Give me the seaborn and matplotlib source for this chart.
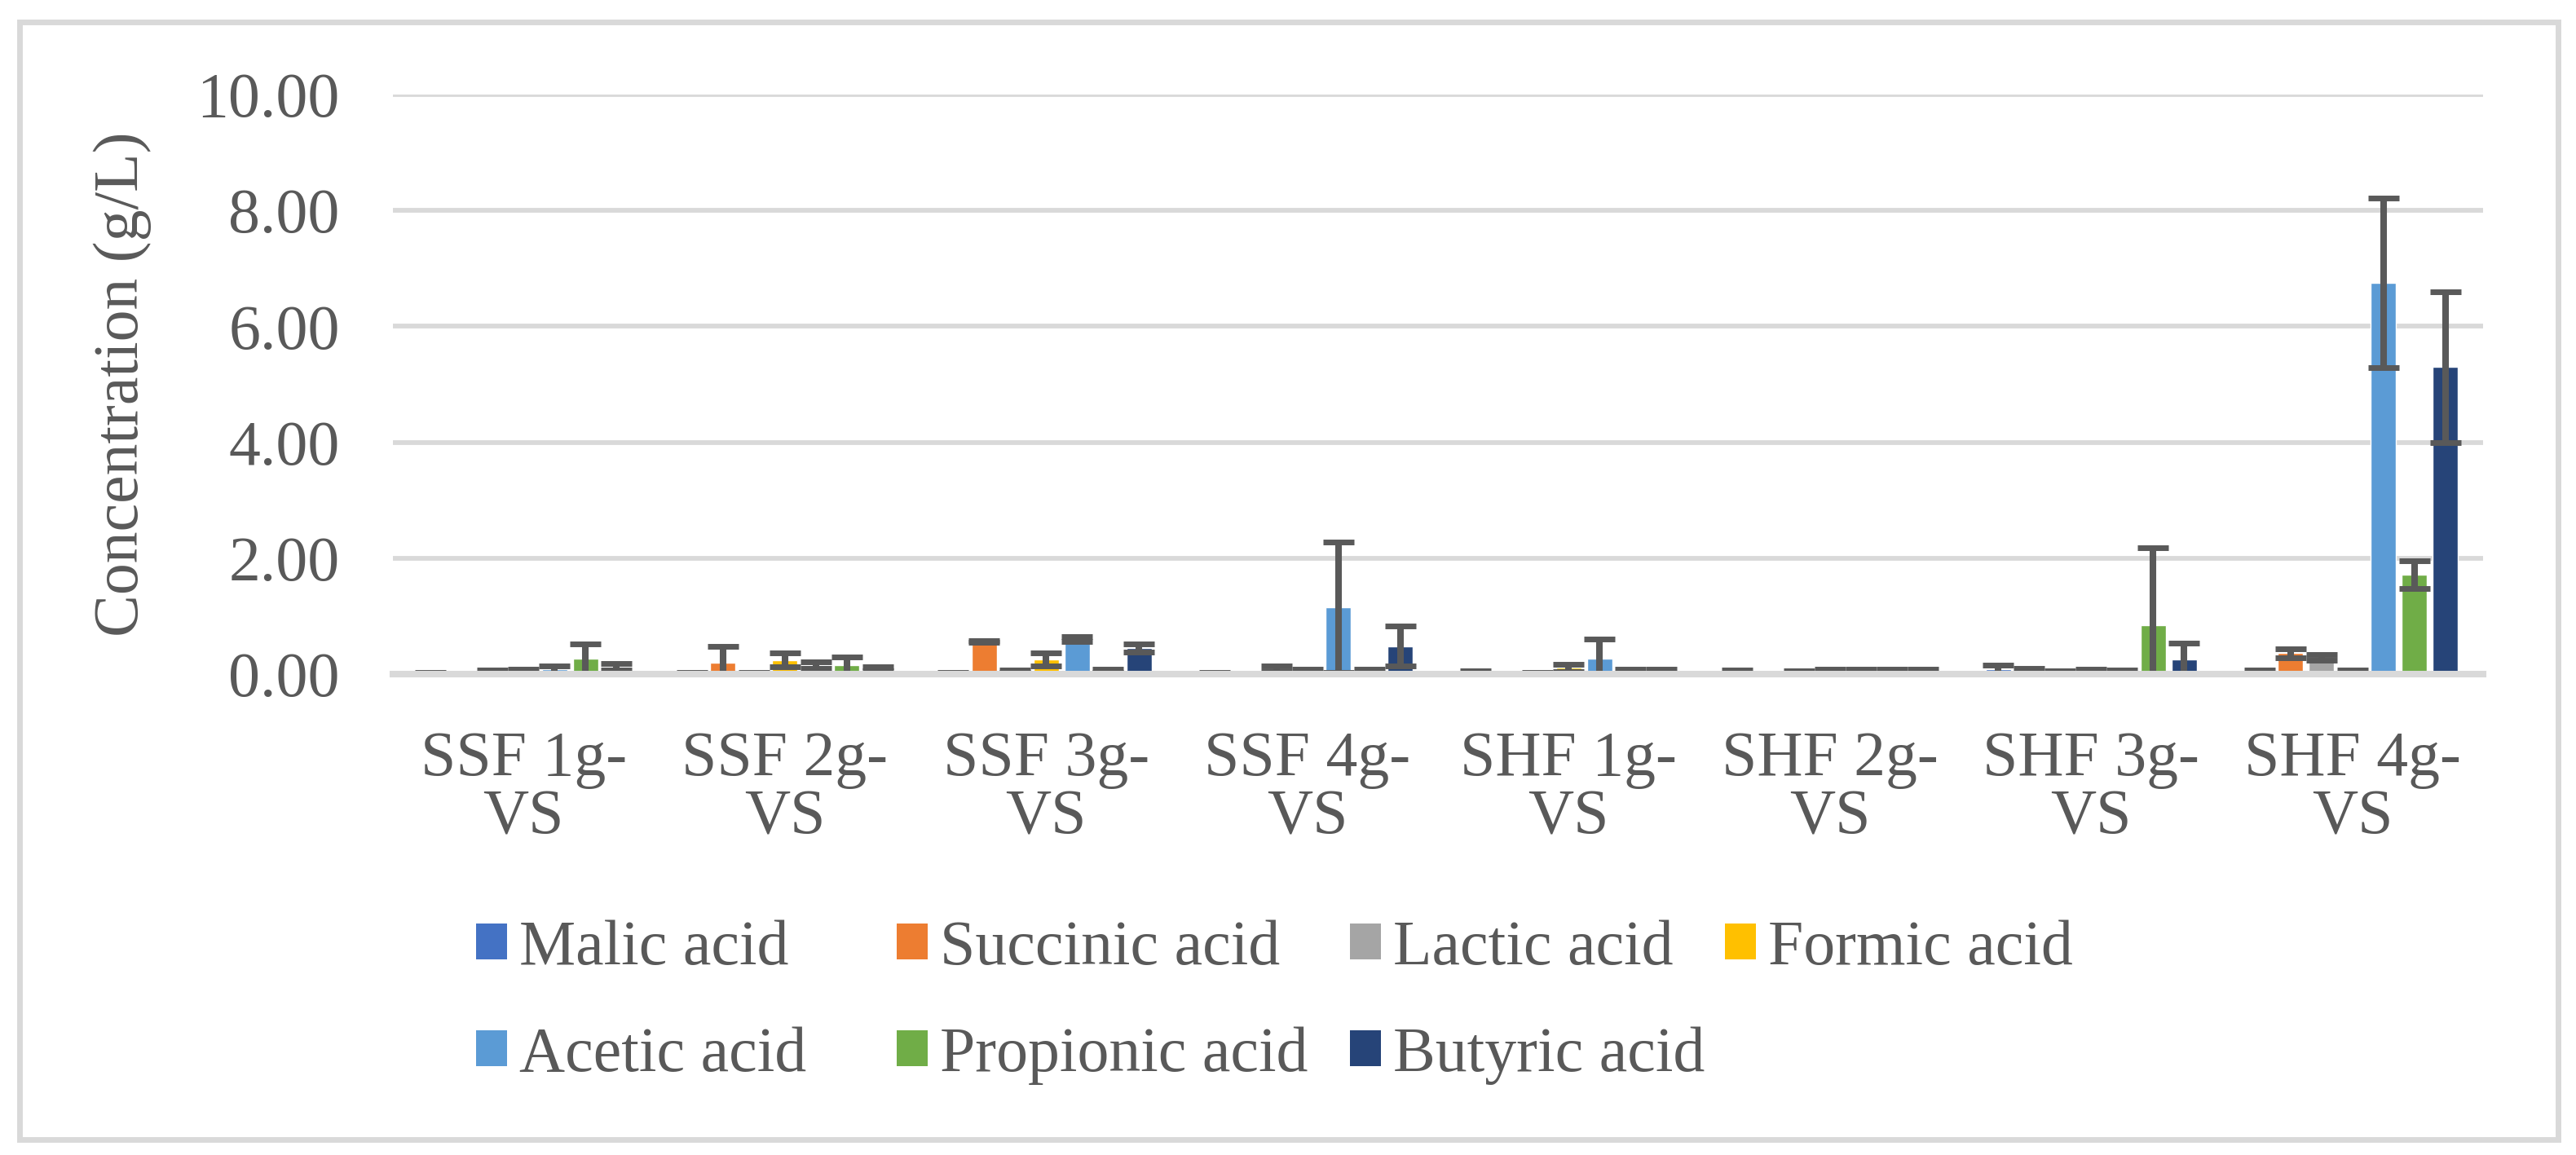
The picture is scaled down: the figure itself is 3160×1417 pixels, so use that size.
import pandas as pd
import matplotlib
matplotlib.use('Agg')
import matplotlib.pyplot as plt
from matplotlib.patches import Patch, Rectangle
import seaborn as sns

groups = ['SSF 1g-\nVS', 'SSF 2g-\nVS', 'SSF 3g-\nVS', 'SSF 4g-\nVS',
          'SHF 1g-\nVS', 'SHF 2g-\nVS', 'SHF 3g-\nVS', 'SHF 4g-\nVS']
acids = ['Malic acid', 'Succinic acid', 'Lactic acid', 'Formic acid',
         'Acetic acid', 'Propionic acid', 'Butyric acid']
colors = ['#4472C4', '#ED7D31', '#A5A5A5', '#FFC000', '#5B9BD5', '#70AD47', '#264478']

# mean concentrations (g/L) per acid, one value per group
malic = [0.02, 0.015, 0.015, 0.015, 0.03, 0.04, 0.09, 0.04]
succinic = [0.005, 0.20, 0.56, 0.005, 0.005, 0.005, 0.06, 0.36]
lactic = [0.04, 0.02, 0.05, 0.09, 0.02, 0.03, 0.04, 0.29]
formic = [0.05, 0.24, 0.25, 0.05, 0.11, 0.05, 0.05, 0.04]
acetic = [0.08, 0.155, 0.60, 1.155, 0.27, 0.05, 0.04, 6.755]
propionic = [0.27, 0.155, 0.06, 0.05, 0.05, 0.05, 0.84, 1.715]
butyric = [0.13, 0.09, 0.45, 0.48, 0.05, 0.05, 0.25, 5.30]

# standard deviations
malic_sd = [0.015, 0.01, 0.01, 0.01, 0.02, 0.03, 0.07, 0.03]
succinic_sd = [0.005, 0.28, 0.01, 0.005, 0.005, 0.005, 0.04, 0.08]
lactic_sd = [0.025, 0.01, 0.02, 0.05, 0.01, 0.02, 0.02, 0.05]
formic_sd = [0.03, 0.12, 0.11, 0.03, 0.065, 0.035, 0.03, 0.03]
acetic_sd = [0.06, 0.055, 0.04, 1.125, 0.33, 0.035, 0.03, 1.465]
propionic_sd = [0.25, 0.135, 0.03, 0.03, 0.03, 0.035, 1.34, 0.245]
butyric_sd = [0.055, 0.04, 0.065, 0.345, 0.03, 0.035, 0.28, 1.30]

y_ticks = [0, 2, 4, 6, 8, 10]

means = [malic, succinic, lactic, formic, acetic, propionic, butyric]
sds = [malic_sd, succinic_sd, lactic_sd, formic_sd, acetic_sd, propionic_sd, butyric_sd]

rows = []
for acid, vals in zip(acids, means):
    for g, v in zip(groups, vals):
        rows.append({'group': g, 'acid': acid, 'value': v})
df = pd.DataFrame(rows)

sns.set_style('white')
plt.rcParams['font.family'] = ['Liberation Serif', 'DejaVu Serif']
text_color = '#595959'
grid_color = '#D9D9D9'
fs = 56

W, H = 3160, 1417
fig = plt.figure(figsize=(W / 100, H / 100), dpi=100)
ax = fig.add_axes([482 / W, 1 - 827 / H, (3046 - 482) / W, (827 - 116) / H])

sns.barplot(data=df, x='group', y='value', hue='acid', order=groups, hue_order=acids,
            palette=colors, width=0.83, gap=0.18, errorbar=None, legend=False,
            saturation=1, ax=ax, zorder=2)

for cont, sd in zip(ax.containers, sds):
    xs = [p.get_x() + p.get_width() / 2 for p in cont.patches]
    ys = [p.get_height() for p in cont.patches]
    ax.errorbar(xs, ys, yerr=sd, fmt='none', ecolor='#595959', elinewidth=5.8,
                capsize=14, capthick=5, zorder=3)

ax.set_ylim(0, 10)
ax.set_xlim(-0.5, len(groups) - 0.5)
ax.set_yticks(y_ticks)
ax.set_yticklabels([f'{t:.2f}' for t in y_ticks])
ax.yaxis.grid(True, color=grid_color, linewidth=4.2, zorder=0)
ax.set_axisbelow(True)
for s in ['left', 'right', 'top']:
    ax.spines[s].set_visible(False)
ax.spines['bottom'].set_color(grid_color)
ax.spines['bottom'].set_linewidth(5.8)
ax.spines['bottom'].set_zorder(4)
ax.tick_params(axis='y', length=0, pad=47, labelsize=fs, labelcolor=text_color)
ax.tick_params(axis='x', length=0, pad=50, labelsize=fs, labelcolor=text_color)
for lab in ax.get_xticklabels():
    lab.set_linespacing(1.0)
ax.set_xlabel('')
ax.set_ylabel('Concentration (g/L)', fontsize=fs, color=text_color)
ax.yaxis.set_label_coords(-0.1155, 0.5)

# legend laid out like Excel: one small legend per column, two rows
handles = [Patch(facecolor=c, edgecolor='none', label=a) for c, a in zip(colors, acids)]
col_x = [584, 1100, 1656, 2116]
for k, x0 in enumerate(col_x):
    col_handles = handles[k::4]
    leg = fig.legend(handles=col_handles, loc='upper left',
                     bbox_to_anchor=(x0 / W, 1 - 1128 / H),
                     ncol=1, frameon=False, fontsize=fs, labelcolor=text_color,
                     handlelength=0.49, handleheight=0.49, handletextpad=0.19,
                     labelspacing=0.77, borderpad=0, borderaxespad=0)

fig.patches.append(Rectangle((23.5 / W, (H - 1397.5) / H), (3137.5 - 23.5) / W, (1397.5 - 26.5) / H,
                             transform=fig.transFigure, fill=False, edgecolor=grid_color,
                             linewidth=5))

fig.savefig('out.png', dpi=100, facecolor='white')
